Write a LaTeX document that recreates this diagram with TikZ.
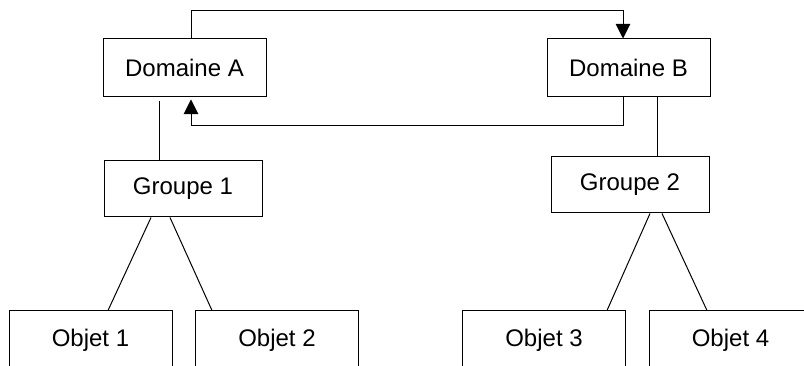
\documentclass[tikz,border=0pt]{standalone}
\usepackage{fontspec}
\setmainfont{Liberation Sans}
\usepackage{tikz}
\usetikzlibrary{calc,arrows.meta}
\newcommand{\boxline}{.75pt}

\begin{document}
\begin{tikzpicture}[x=.75pt,y=-.75pt,
    boite/.style={draw, rectangle, line width=\boxline, inner sep=0pt,
      minimum width=122.25pt, minimum height=43.5pt,
      font=\fontsize{18}{21}\selectfont},
    groupe/.style={boite, minimum width=118.5pt, minimum height=42pt},
    lien/.style={line width=\boxline},
    fleche/.style={lien, -{Triangle[length=11pt,width=11pt]}}]

      \clip (0,0) rectangle (804,366);

      \node (domA) at (184.5,68)  [boite] {Domaine A};
      \node (domB) at (628.5,68)  [boite] {Domaine B};
      \node (grp1) at (183,189)   [groupe] {Groupe 1};
      \node (grp2) at (630,185)   [groupe] {Groupe 2};
      \node (obj1) at (90.5,340)  [boite] {Objet 1};
      \node (obj2) at (277,340)   [boite] {Objet 2};
      \node (obj3) at (544,340)   [boite] {Objet 3};
      \node (obj4) at (730.5,340) [boite] {Objet 4};

      \draw[fleche] ($(domA.north)+(6.5,0)$) -- ++(0,-28) -| ($(domB.north)+(-5.5,0)$);
      \draw[fleche] ($(domB.south)+(-5.5,0)$) -- ++(0,28) -| ($(domA.south)+(6.5,2)$);

      \draw[lien] ($(domA.south)+(-25.5,4)$) -- ($(domA.south |- grp1.north)+(-25.5,0)$);
      \draw[lien] ($(domB.south)+(28.5,0)$) -- ($(domB.south |- grp2.north)+(28.5,0)$);

      \draw[lien] ($(grp1.south)+(-32,0)$) -- ($(obj1.north)+(17.5,0)$);
      \draw[lien] ($(grp1.south)+(-13,0)$) -- ($(obj2.north)+(-65,0)$);
      \draw[lien] ($(grp2.south)+(20,0)$) -- ($(obj3.north)+(63,0)$);
      \draw[lien] ($(grp2.south)+(32,0)$) -- ($(obj4.north)+(-23.5,0)$);

  \end{tikzpicture}
\end{document}
